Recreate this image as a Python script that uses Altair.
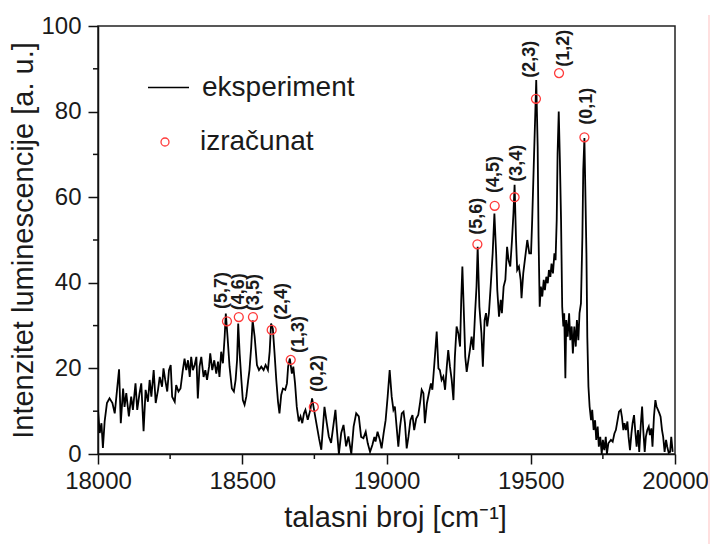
import altair as alt
import pandas as pd

seg_a = [[18000,10.3],[18006,4.9],[18012,7.2],[18017,1.4],[18023,7.6],[18031,11.9],[18040,13],[18050,11.9],
         [18058,9.5],[18066,15],[18073,19.8],[18079,7.2],[18087,15.3],[18092,11],[18098,14.2],[18107,8.8],
         [18115,13.4],[18121,10.3],[18130,16.5],[18136,10.3],[18144,14.2],[18150,16.5],[18158,5.3],[18165,15],
         [18173,12.2],[18179,17.3],[18185,13.4],[18193,19.6],[18200,11.9],[18208,15],[18214,18],[18222,15.7],
         [18227,20],[18233,17.3],[18240,14.6],[18246,19.6],[18252,20.8],[18257,13.4],[18266,12.2],[18271,16.1],
         [18279,14.6],[18286,15.3],[18294,19.6],[18300,22.3],[18306,19.6],[18312,21.9],[18318,18],[18323,22.7],
         [18329,19.6],[18335,20.8],[18341,22.7],[18346,13],[18352,20.4],[18358,22.7],[18366,18],[18372,19.6],
         [18378,17.3],[18385,20.4],[18389,23.5],[18396,19.6],[18403,21.9],[18410,18.8],[18416,21.6],[18421,18],
         [18427,23.9],[18433,21.2],[18439,27.4],[18443,32.8],[18449,27.4],[18456,20.4],[18464,15.3],[18471,14.6],
         [18477,17.3],[18482,21.9],[18486,30.5],[18491,23.5],[18497,17.3],[18502,12.6],[18508,11.5],[18514,13.4],
         [18520,16.9],[18525,19.6],[18531,25],[18536,31.2],[18543,27.4],[18551,20.8],[18558,19.6],[18566,20.4],
         [18574,19.6],[18581,20.8],[18589,19.6],[18595,23.9],[18600,30.5],[18606,29.3],[18612,23.5],[18618,17.3],
         [18624,12.2],[18629,9.5],[18635,13.8],[18641,15.3],[18649,15],[18655,16.5],[18659,20.4],[18665,22.3],
         [18672,18.8],[18677,20.4],[18683,16.5],[18689,11],[18696,7.6],[18702,8.8],[18708,7.2],[18714,9.5],
         [18719,10.3],[18727,8],[18736,10.3],[18742,13],[18751,9.5],[18759,6.4],[18766,3.7],[18774,1],
         [18779,5.7],[18785,11],[18793,7.2],[18800,4.1],[18808,2.6],[18814,5.7],[18823,10.3],[18828,5.7],
         [18835,0],[18843,4.9],[18851,6.8],[18860,1.8],[18868,4.1],[18878,0],[18886,6.4],[18895,9.5],[18904,8.8]]
seg_b = [[18912,4],[18920,3.7],[18928,5.2],[18935,2.5],[18943,0.5],[18951,2.1],[18958,4],[18962,2.9],
         [18969,5.2],[18977,3.3],[18983,1.3],[18990,4.8],[18997,7.9],[19004,13.4],[19011,19.6],[19018,13.4],
         [19024,10.3],[19029,11.1],[19035,6.4],[19041,1.7],[19047,6.4],[19053,9.5],[19059,9.9],[19064,7.2],
         [19070,1.3],[19076,4],[19083,7.9],[19090,9.1],[19096,5.6],[19103,8.3],[19110,9.1],[19116,11.8],
         [19122,15],[19128,14.2],[19133,7.2],[19140,11.8],[19147,14.2],[19154,16.5],[19159,15],[19166,21.2],
         [19174,28.6],[19180,20]]
seg_c = [[19185,19.6],[19191,17.3],[19197,18.1],[19203,15],[19209,20.4],[19214,24.3],[19220,20.4],[19226,17.3],
         [19232,12.6],[19237,22.7],[19243,29.8],[19249,28.2],[19255,25.1],[19259,36],[19263,43.8],[19269,31.3],
         [19273,22.7],[19278,19.2],[19284,22],[19289,24.3],[19295,27.4],[19301,24.3],[19307,32.9],[19312,39.1],
         [19316,48.4],[19322,34.4],[19329,28.2],[19334,20.4],[19340,31.3],[19345,32.9],[19349,29.8],[19355,32.9],
         [19361,39.1],[19368,46.9],[19374,56.2],[19380,46.9],[19384,38.3],[19390,32.1],[19396,36],[19400,32.9],
         [19406,39.1],[19412,40.7],[19418,48.4],[19423,45.3],[19429,43.8],[19435,50],[19440,56.2],[19444,62.9],
         [19449,50],[19453,43],[19459,43.8],[19465,40.7],[19468,36.4],[19474,42.2],[19481,46.1],[19488,50],
         [19495,46.9]]
seg_d = [[19501,46.9],[19505,54.7],[19510,66.4],[19515,78],[19519,87.4],[19524,71.8],[19527,50.8],[19531,34.4],
         [19535,39.1],[19540,36.8],[19545,40.7],[19549,38.3],[19554,41.4],[19559,39.9],[19563,43],[19568,41.4],
         [19572,44.5],[19577,42.2],[19582,46.9],[19586,45.3],[19590,54.7],[19593,70.2],[19597,80],[19601,68.7],
         [19605,54.7],[19609,34.4],[19613,29.8],[19616,32.9],[19620,17.7],[19623,31.3],[19628,27.4],[19633,32.9],
         [19637,26.6],[19642,29.8],[19646,23.5],[19651,29.8],[19656,25.1],[19660,31.3],[19665,26.6],[19669,32.9],
         [19674,35.2],[19679,50.8],[19682,66.4],[19686,73.8],[19689,62.5],[19693,46.9],[19696,27.4],[19700,15.7],
         [19704,11.1],[19709,7.9],[19713,10.3],[19718,5.6],[19723,7.9],[19727,3.3],[19732,6.4],[19736,1.7],
         [19741,4],[19746,0],[19750,3.3],[19755,0.9],[19760,4],[19764,0],[19769,2.5]]
seg_e = [[19778,3.3],[19784,2.9],[19790,4.8],[19795,5.6],[19801,7.9],[19806,9.9],[19812,10.3],[19816,8.7],
         [19821,5.6],[19825,7.2],[19830,5.6],[19835,7.6],[19839,4],[19844,0.9],[19849,4.8],[19853,7.2],
         [19858,9.1],[19862,5.6],[19867,1.7],[19872,5.6],[19876,0.5],[19881,6.4],[19886,11.1],[19890,5.6],
         [19895,0.5],[19899,4],[19904,5.6],[19909,6.4],[19913,4.4],[19918,6],[19922,1.7],[19927,8.7],
         [19932,12.6],[19936,11.1],[19941,10.3],[19946,9.5],[19950,8.7],[19955,5.6],[19959,4],[19964,0.5],
         [19969,3.3],[19973,1.7],[19978,0.3],[19983,0.5],[19987,4],[19992,0.5]]

# ---- calculated band heads ----
peak_labels = ["(5,7)", "(4,6)", "(3,5)", "(2,4)", "(1,3)", "(0,2)",
               "(5,6)", "(4,5)", "(3,4)", "(2,3)", "(1,2)", "(0,1)"]
calc_wn = [18447, 18488, 18537, 18602, 18668, 18748, 19315, 19375, 19444, 19518, 19598, 19686]
calc_I = [31, 32, 32, 29, 22, 11, 49, 58, 60, 83, 89, 74]
# label anchor points (start of the rotated text)
label_wn = [18429, 18489, 18541, 18639, 18697, 18763, 19313, 19373, 19451, 19497, 19615, 19694]
label_I = [33.9, 33.6, 33.4, 31.3, 23.6, 14.5, 51.2, 61.0, 63.6, 87.9, 90.5, 76.9]

x_major = list(range(18000, 20001, 500))
x_minor = list(range(18250, 20000, 500))
y_major = list(range(0, 101, 20))
y_minor = list(range(10, 100, 20))

spectrum = seg_a + seg_b + seg_c + seg_d + seg_e
df_line = pd.DataFrame(spectrum, columns=["wn", "I"])
df_line["series"] = "eksperiment"
df_calc = pd.DataFrame({"wn": calc_wn, "I": calc_I, "kind": "izračunat"})
df_lab = pd.DataFrame({"wn": label_wn, "I": label_I, "label": peak_labels})
df_xminor = pd.DataFrame({"wn": x_minor})
df_yminor = pd.DataFrame({"I": y_minor})

FONT = "Liberation Sans"
RED = "#ff3b3b"
TXT = "#1a1a1a"
AX = "#111111"

xscale = alt.Scale(domain=[18000, 20000], nice=False, zero=False)
yscale = alt.Scale(domain=[0, 100], nice=False)

x_axis = alt.Axis(values=x_major, format="d", tickSize=10,
                  title="talasni broj [cm⁻¹]", grid=False, labelFlush=False, labelOverlap=False,
                  labelPadding=5, titlePadding=10, titleX=297)
y_axis = alt.Axis(values=y_major, format="d", tickSize=10,
                  title="Intenzitet luminescencije [a. u.]", grid=False, labelFlush=False,
                  labelOverlap=False, labelPadding=7, titlePadding=2)

line = alt.Chart(df_line).mark_line(strokeWidth=1.8, clip=True).encode(
    x=alt.X("wn:Q", scale=xscale, axis=x_axis),
    y=alt.Y("I:Q", scale=yscale, axis=y_axis),
    color=alt.Color("series:N",
                    scale=alt.Scale(domain=["eksperiment"], range=["black"]),
                    legend=alt.Legend(orient="none", legendX=49, legendY=40, title=None,
                                      symbolType="stroke", symbolSize=1681, symbolStrokeWidth=1.4,
                                      labelOffset=12, padding=0)),
)

pts = alt.Chart(df_calc).mark_point(shape="circle", filled=False, size=80, strokeWidth=1.3,
                                    color=RED, opacity=1).encode(
    x=alt.X("wn:Q", scale=xscale),
    y=alt.Y("I:Q", scale=yscale),
    shape=alt.Shape("kind:N", scale=alt.Scale(domain=["izračunat"], range=["circle"]),
                    legend=alt.Legend(orient="none", legendX=53, legendY=102, title=None,
                                      symbolSize=64, symbolStrokeColor=RED,
                                      symbolFillColor="transparent", symbolStrokeWidth=1.3,
                                      labelOffset=21, padding=0)),
)

txt = alt.Chart(df_lab).mark_text(angle=270, align="left", baseline="middle", fontSize=18,
                                  fontWeight="bold", font=FONT, color=TXT).encode(
    x=alt.X("wn:Q", scale=xscale),
    y=alt.Y("I:Q", scale=yscale),
    text="label:N",
)

xminor = alt.Chart(df_xminor).mark_rule(color=AX, strokeWidth=1.5).encode(
    x=alt.X("wn:Q", scale=xscale), y=alt.value(428), y2=alt.value(433))
yminor = alt.Chart(df_yminor).mark_rule(color=AX, strokeWidth=1.5).encode(
    y=alt.Y("I:Q", scale=yscale), x=alt.value(0), x2=alt.value(-5))

edge = alt.Chart(pd.DataFrame({"k": [0]})).mark_rule(color="#ffd4d4", strokeWidth=1.5).encode(
    x=alt.value(611), y=alt.value(-11), y2=alt.value(518))

chart = alt.layer(line, pts, txt, xminor, yminor, edge).resolve_legend(
    color="independent", shape="independent").properties(
    width=577, height=428,
    autosize=alt.AutoSizeParams(type="none"),
    padding={"left": 98, "top": 26, "right": 38, "bottom": 90},
    background="white",
).configure_view(stroke="#222", strokeWidth=1.5).configure_axis(
    domainColor=AX, domainWidth=1.5, tickColor=AX, tickWidth=1.5,
    labelFont=FONT, labelFontSize=24, labelColor=TXT,
    titleFont=FONT, titleFontSize=29, titleFontWeight="normal", titleColor=TXT,
).configure_legend(labelFont=FONT, labelFontSize=28, labelColor=TXT)

chart.save("out.html", embed_options={"renderer": "svg", "actions": False})
